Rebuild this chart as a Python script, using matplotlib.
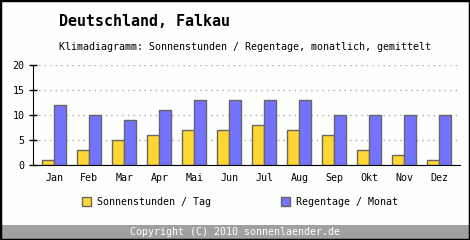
import matplotlib
matplotlib.use('Agg')
import matplotlib.pyplot as plt
import numpy as np
from matplotlib.patches import Rectangle

months = ['Jan', 'Feb', 'Mar', 'Apr', 'Mai', 'Jun', 'Jul', 'Aug', 'Sep', 'Okt', 'Nov', 'Dez']
sonnenstunden = [1, 3, 5, 6, 7, 7, 8, 7, 6, 3, 2, 1]
regentage = [12, 10, 9, 11, 13, 13, 13, 13, 10, 10, 10, 10]
y_ticks = [0, 5, 10, 15, 20]

FONT = 'DejaVu Sans Mono'
BG = '#fdfffd'
FS = 7.2

fig = plt.figure(figsize=(4.7, 2.4), dpi=100)
fig.patch.set_facecolor(BG)
ax = fig.add_axes([33 / 470, 1 - 165 / 240, 427 / 470, 100 / 240])
ax.set_facecolor(BG)

x = np.arange(len(months))
w = 0.345
ax.bar(x - w / 2, sonnenstunden, w, color='#ffd633', edgecolor='#666666', linewidth=1, zorder=3,
       label='Sonnenstunden / Tag')
ax.bar(x + w / 2, regentage, w, color='#7373ff', edgecolor='#666666', linewidth=1, zorder=3,
       label='Regentage / Monat')

ax.set_xlim(-0.61, 11.59)
ax.set_ylim(0, 20)
ax.set_yticks(y_ticks)
ax.set_xticks(x)
ax.set_xticklabels(months, fontfamily=FONT, fontsize=FS)
for lab in ax.get_yticklabels():
    lab.set_fontfamily(FONT)
    lab.set_fontsize(FS)
ax.tick_params(axis='x', length=0, pad=6)
ax.tick_params(axis='y', direction='inout', length=6, width=1, pad=3)
ax.yaxis.grid(True, linestyle=(0, (1, 3)), color='#aaaaaa', linewidth=1, zorder=0)
for s in ['top', 'right']:
    ax.spines[s].set_visible(False)
ax.spines['left'].set_color('black')
ax.spines['bottom'].set_color('black')
ax.spines['bottom'].set_zorder(4)

fig.text(59 / 470, 1 - 22 / 240, 'Deutschland, Falkau', fontfamily=FONT, fontsize=10.8,
         fontweight='bold', va='center', ha='left')
fig.text(59 / 470, 1 - 47 / 240, 'Klimadiagramm: Sonnenstunden / Regentage, monatlich, gemittelt',
         fontfamily=FONT, fontsize=FS, va='center', ha='left')

leg = fig.legend(loc='center left', bbox_to_anchor=(82 / 470, 1 - 202 / 240), ncol=2, frameon=False,
                 prop={'family': FONT, 'size': FS}, handlelength=0.9, handleheight=0.9,
                 columnspacing=7.0, handletextpad=0.6, borderpad=0, borderaxespad=0)

fig.patches.append(Rectangle((0, 1 / 240), 1, 14 / 240, transform=fig.transFigure,
                             facecolor='#a0a0a0', edgecolor='none', zorder=1))
fig.text(0.5, 1 - 232 / 240, 'Copyright (C) 2010 sonnenlaender.de', fontfamily=FONT, fontsize=FS,
         color='white', ha='center', va='center', zorder=2)
fig.patches.append(Rectangle((0, 0), 1, 1, transform=fig.transFigure, fill=False,
                             edgecolor='black', linewidth=2.5, zorder=5))

fig.savefig('out.png', dpi=100, facecolor=BG)
